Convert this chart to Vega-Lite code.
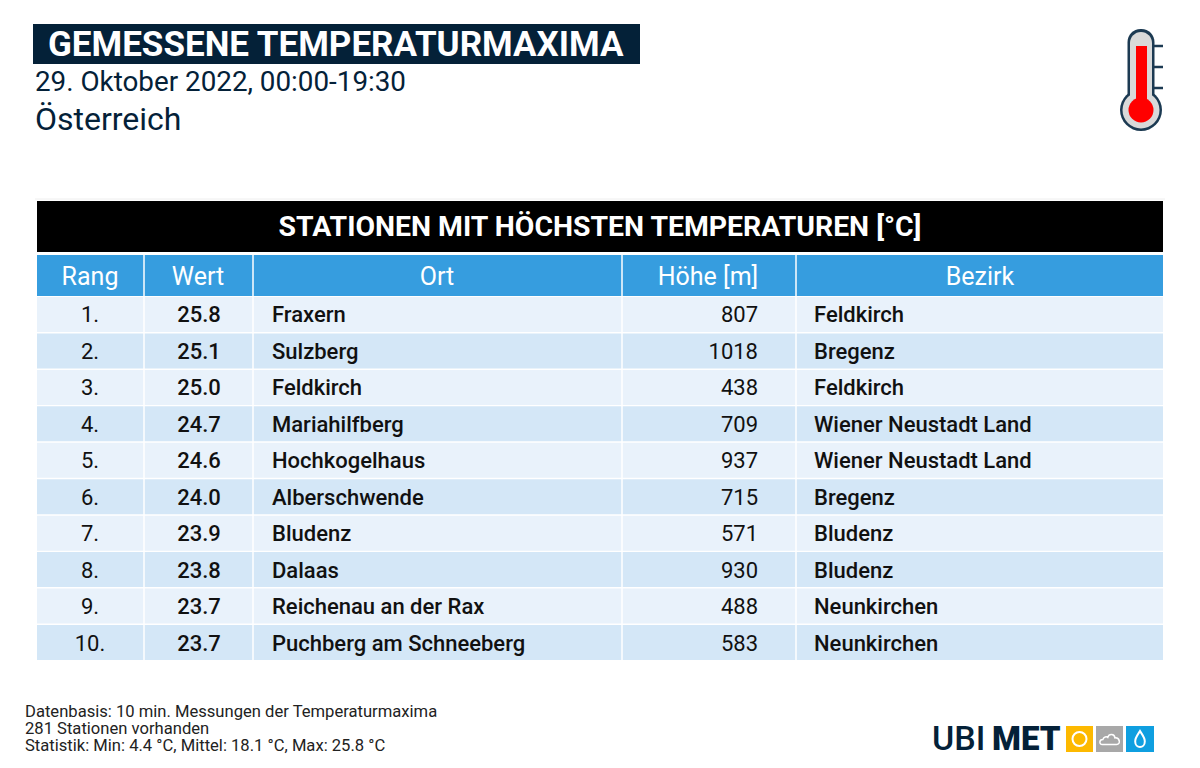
{
  "$schema": "https://vega.github.io/schema/vega-lite/v6.json",
  "width": 1200,
  "height": 768,
  "padding": 0,
  "autosize": {"type": "fit", "contains": "padding"},
  "background": "#ffffff",
  "config": {
    "view": {"stroke": null},
    "axis": {"disable": true},
    "text": {"font": "Roboto"}
  },
  "datasets": {
    "stationen": [
      {"Rang": "1.", "Wert": "25.8", "Ort": "Fraxern", "Hoehe": 807, "Bezirk": "Feldkirch"},
      {"Rang": "2.", "Wert": "25.1", "Ort": "Sulzberg", "Hoehe": 1018, "Bezirk": "Bregenz"},
      {"Rang": "3.", "Wert": "25.0", "Ort": "Feldkirch", "Hoehe": 438, "Bezirk": "Feldkirch"},
      {"Rang": "4.", "Wert": "24.7", "Ort": "Mariahilfberg", "Hoehe": 709, "Bezirk": "Wiener Neustadt Land"},
      {"Rang": "5.", "Wert": "24.6", "Ort": "Hochkogelhaus", "Hoehe": 937, "Bezirk": "Wiener Neustadt Land"},
      {"Rang": "6.", "Wert": "24.0", "Ort": "Alberschwende", "Hoehe": 715, "Bezirk": "Bregenz"},
      {"Rang": "7.", "Wert": "23.9", "Ort": "Bludenz", "Hoehe": 571, "Bezirk": "Bludenz"},
      {"Rang": "8.", "Wert": "23.8", "Ort": "Dalaas", "Hoehe": 930, "Bezirk": "Bludenz"},
      {"Rang": "9.", "Wert": "23.7", "Ort": "Reichenau an der Rax", "Hoehe": 488, "Bezirk": "Neunkirchen"},
      {"Rang": "10.", "Wert": "23.7", "Ort": "Puchberg am Schneeberg", "Hoehe": 583, "Bezirk": "Neunkirchen"}
    ]
  },
  "layer": [
    {
      "data": {"name": "stationen"},
      "encoding": {
        "y": {
          "field": "Rang",
          "type": "ordinal",
          "sort": null,
          "scale": {
            "domain": ["1.", "2.", "3.", "4.", "5.", "6.", "7.", "8.", "9.", "10."],
            "range": [297, 660],
            "paddingInner": 0.04,
            "paddingOuter": 0
          }
        }
      },
      "layer": [
        {
          "mark": {"type": "rect"},
          "encoding": {
            "x": {"datum": 37, "scale": {"domain": [0, 1200], "range": [0, 1200], "nice": false, "zero": false}},
            "x2": {"datum": 1163},
            "color": {
              "field": "Rang",
              "type": "nominal",
              "legend": null,
              "scale": {
                "domain": ["1.", "2.", "3.", "4.", "5.", "6.", "7.", "8.", "9.", "10."],
                "range": ["#e9f2fb", "#d4e7f7", "#e9f2fb", "#d4e7f7", "#e9f2fb", "#d4e7f7", "#e9f2fb", "#d4e7f7", "#e9f2fb", "#d4e7f7"]
              }
            }
          }
        },
        {
          "mark": {"type": "text", "align": "center", "baseline": "middle", "dy": 1, "fontSize": 22, "color": "#111111"},
          "encoding": {"x": {"datum": 90}, "text": {"field": "Rang"}}
        },
        {
          "mark": {"type": "text", "align": "center", "baseline": "middle", "dy": 1, "fontSize": 22, "fontWeight": 500, "color": "#111111"},
          "encoding": {"x": {"datum": 199}, "text": {"field": "Wert"}}
        },
        {
          "mark": {"type": "text", "align": "left", "baseline": "middle", "dy": 1, "fontSize": 22, "fontWeight": 500, "color": "#111111"},
          "encoding": {"x": {"datum": 272}, "text": {"field": "Ort"}}
        },
        {
          "mark": {"type": "text", "align": "right", "baseline": "middle", "dy": 1, "fontSize": 22, "color": "#111111"},
          "encoding": {"x": {"datum": 758}, "text": {"field": "Hoehe"}}
        },
        {
          "mark": {"type": "text", "align": "left", "baseline": "middle", "dy": 1, "fontSize": 22, "fontWeight": 500, "color": "#111111"},
          "encoding": {"x": {"datum": 814}, "text": {"field": "Bezirk"}}
        }
      ]
    },
    {
      "data": {"values": [{"Text": ""}]},
      "layer": [
        {
          "mark": {"type": "rect", "color": "#042138"},
          "encoding": {
            "x": {"datum": 33},
            "x2": {"datum": 640},
            "y": {"datum": 24, "scale": {"domain": [0, 768], "range": [0, 768], "nice": false, "zero": false}},
            "y2": {"datum": 64}
          }
        },
        {
          "mark": {"type": "text", "text": "GEMESSENE TEMPERATURMAXIMA", "align": "left", "baseline": "middle", "fontSize": 35, "fontWeight": 700, "color": "#ffffff"},
          "encoding": {"x": {"datum": 48}, "y": {"datum": 44.5}}
        },
        {
          "mark": {"type": "text", "text": "29. Oktober 2022, 00:00-19:30", "align": "left", "baseline": "middle", "fontSize": 27.8, "color": "#042138"},
          "encoding": {"x": {"datum": 35}, "y": {"datum": 83}}
        },
        {
          "mark": {"type": "text", "text": "Österreich", "align": "left", "baseline": "middle", "fontSize": 32, "fontWeight": 400, "color": "#042138"},
          "encoding": {"x": {"datum": 35}, "y": {"datum": 120}}
        },
        {
          "mark": {"type": "rule", "color": "#eeeeee", "strokeWidth": 1},
          "encoding": {"x": {"datum": 35}, "x2": {"datum": 1165}, "y": {"datum": 199}}
        },
        {
          "mark": {"type": "rect", "color": "#000000"},
          "encoding": {"x": {"datum": 37}, "x2": {"datum": 1163}, "y": {"datum": 201}, "y2": {"datum": 252}}
        },
        {
          "mark": {"type": "text", "text": "STATIONEN MIT HÖCHSTEN TEMPERATUREN [°C]", "align": "center", "baseline": "middle", "fontSize": 28.4, "fontWeight": 700, "color": "#ffffff"},
          "encoding": {"x": {"datum": 600}, "y": {"datum": 227}}
        },
        {
          "mark": {"type": "rect", "color": "#369ddf"},
          "encoding": {"x": {"datum": 37}, "x2": {"datum": 1163}, "y": {"datum": 255}, "y2": {"datum": 296}}
        },
        {
          "mark": {"type": "text", "text": "Rang", "align": "center", "baseline": "middle", "fontSize": 25, "color": "#ffffff"},
          "encoding": {"x": {"datum": 90}, "y": {"datum": 277}}
        },
        {
          "mark": {"type": "text", "text": "Wert", "align": "center", "baseline": "middle", "fontSize": 25, "color": "#ffffff"},
          "encoding": {"x": {"datum": 198}, "y": {"datum": 277}}
        },
        {
          "mark": {"type": "text", "text": "Ort", "align": "center", "baseline": "middle", "fontSize": 25, "color": "#ffffff"},
          "encoding": {"x": {"datum": 437}, "y": {"datum": 277}}
        },
        {
          "mark": {"type": "text", "text": "Höhe [m]", "align": "center", "baseline": "middle", "fontSize": 25, "color": "#ffffff"},
          "encoding": {"x": {"datum": 708}, "y": {"datum": 277}}
        },
        {
          "mark": {"type": "text", "text": "Bezirk", "align": "center", "baseline": "middle", "fontSize": 25, "color": "#ffffff"},
          "encoding": {"x": {"datum": 980}, "y": {"datum": 277}}
        },
        {
          "mark": {"type": "rule", "color": "#ffffff", "strokeWidth": 1.5},
          "encoding": {"x": {"datum": 144}, "y": {"datum": 255}, "y2": {"datum": 660}}
        },
        {
          "mark": {"type": "rule", "color": "#ffffff", "strokeWidth": 1.5},
          "encoding": {"x": {"datum": 253}, "y": {"datum": 255}, "y2": {"datum": 660}}
        },
        {
          "mark": {"type": "rule", "color": "#ffffff", "strokeWidth": 1.5},
          "encoding": {"x": {"datum": 622}, "y": {"datum": 255}, "y2": {"datum": 660}}
        },
        {
          "mark": {"type": "rule", "color": "#ffffff", "strokeWidth": 1.5},
          "encoding": {"x": {"datum": 796}, "y": {"datum": 255}, "y2": {"datum": 660}}
        },
        {
          "mark": {"type": "text", "text": "Datenbasis: 10 min. Messungen der Temperaturmaxima", "align": "left", "baseline": "middle", "fontSize": 16.6, "color": "#222222"},
          "encoding": {"x": {"datum": 25}, "y": {"datum": 712}}
        },
        {
          "mark": {"type": "text", "text": "281 Stationen vorhanden", "align": "left", "baseline": "middle", "fontSize": 16.6, "color": "#222222"},
          "encoding": {"x": {"datum": 25}, "y": {"datum": 729}}
        },
        {
          "mark": {"type": "text", "text": "Statistik: Min: 4.4 °C, Mittel: 18.1 °C, Max: 25.8 °C", "align": "left", "baseline": "middle", "fontSize": 16.6, "color": "#222222"},
          "encoding": {"x": {"datum": 25}, "y": {"datum": 746}}
        },
        {
          "mark": {"type": "rule", "color": "#1c3a52", "strokeWidth": 2.5},
          "encoding": {"x": {"datum": 1150}, "x2": {"datum": 1163}, "y": {"datum": 46}}
        },
        {
          "mark": {"type": "rule", "color": "#1c3a52", "strokeWidth": 2.5},
          "encoding": {"x": {"datum": 1150}, "x2": {"datum": 1163}, "y": {"datum": 67}}
        },
        {
          "mark": {"type": "rule", "color": "#1c3a52", "strokeWidth": 2.5},
          "encoding": {"x": {"datum": 1150}, "x2": {"datum": 1163}, "y": {"datum": 88}}
        },
        {
          "mark": {"type": "rect", "color": "#1c3a52", "cornerRadius": 13},
          "encoding": {"x": {"datum": 1127.5}, "x2": {"datum": 1154.5}, "y": {"datum": 29}, "y2": {"datum": 115}}
        },
        {
          "mark": {"type": "point", "shape": "circle", "filled": true, "opacity": 1, "size": 1764, "color": "#1c3a52"},
          "encoding": {"x": {"datum": 1141}, "y": {"datum": 110}}
        },
        {
          "mark": {"type": "rect", "color": "#d9d9d9", "cornerRadius": 11},
          "encoding": {"x": {"datum": 1130}, "x2": {"datum": 1152}, "y": {"datum": 32}, "y2": {"datum": 115}}
        },
        {
          "mark": {"type": "point", "shape": "circle", "filled": true, "opacity": 1, "size": 1369, "color": "#d9d9d9"},
          "encoding": {"x": {"datum": 1141}, "y": {"datum": 110}}
        },
        {
          "mark": {"type": "rect", "color": "#ff0000"},
          "encoding": {"x": {"datum": 1136}, "x2": {"datum": 1147}, "y": {"datum": 46}, "y2": {"datum": 110}}
        },
        {
          "mark": {"type": "point", "shape": "circle", "filled": true, "opacity": 1, "size": 625, "color": "#ff0000"},
          "encoding": {"x": {"datum": 1141}, "y": {"datum": 110}}
        },
        {
          "mark": {"type": "text", "text": "UBI", "align": "left", "baseline": "middle", "fontSize": 34, "fontWeight": 500, "color": "#042138"},
          "encoding": {"x": {"datum": 932}, "y": {"datum": 740}}
        },
        {
          "mark": {"type": "text", "text": "MET", "align": "left", "baseline": "middle", "fontSize": 33, "fontWeight": 900, "color": "#042138"},
          "encoding": {"x": {"datum": 992}, "y": {"datum": 740}}
        },
        {
          "mark": {"type": "rect", "color": "#fdb900"},
          "encoding": {"x": {"datum": 1066}, "x2": {"datum": 1093}, "y": {"datum": 726}, "y2": {"datum": 752}}
        },
        {
          "mark": {"type": "rect", "color": "#a8a8a8"},
          "encoding": {"x": {"datum": 1096}, "x2": {"datum": 1123}, "y": {"datum": 726}, "y2": {"datum": 752}}
        },
        {
          "mark": {"type": "rect", "color": "#0f9fe0"},
          "encoding": {"x": {"datum": 1126}, "x2": {"datum": 1154}, "y": {"datum": 726}, "y2": {"datum": 752}}
        },
        {
          "mark": {"type": "point", "shape": "circle", "filled": false, "opacity": 1, "size": 196, "stroke": "#ffffff", "strokeWidth": 2},
          "encoding": {"x": {"datum": 1079.5}, "y": {"datum": 739}}
        },
        {
          "mark": {"type": "point", "shape": "M-0.7,0.5 C-1,0.5 -1,0.05 -0.65,0.05 C-0.6,-0.2 -0.3,-0.25 -0.2,-0.15 C-0.1,-0.5 0.4,-0.5 0.45,-0.1 C0.9,-0.15 1,0.5 0.6,0.5 Z", "filled": false, "opacity": 1, "size": 484, "stroke": "#ffffff", "strokeWidth": 1.5},
          "encoding": {"x": {"datum": 1110}, "y": {"datum": 739}}
        },
        {
          "mark": {"type": "point", "shape": "M0,-1 C0.3,-0.5 0.6,-0.2 0.6,0.3 C0.6,0.75 0.3,1 0,1 C-0.3,1 -0.6,0.75 -0.6,0.3 C-0.6,-0.2 -0.3,-0.5 0,-1 Z", "filled": false, "opacity": 1, "size": 256, "stroke": "#ffffff", "strokeWidth": 2},
          "encoding": {"x": {"datum": 1140}, "y": {"datum": 739}}
        }
      ]
    }
  ],
  "resolve": {"scale": {"y": "independent", "color": "independent"}}
}
